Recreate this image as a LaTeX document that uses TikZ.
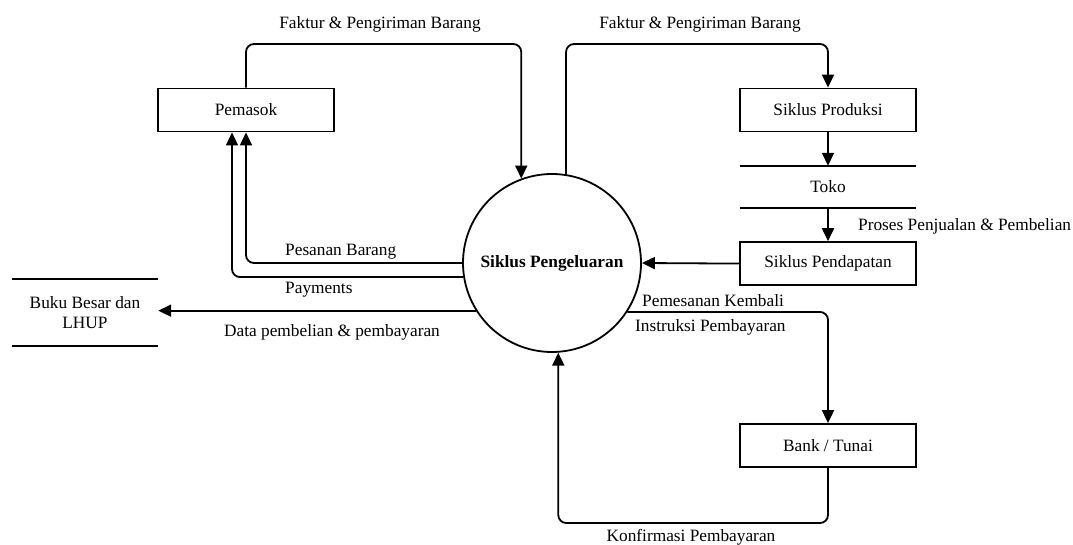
\documentclass[tikz,border=0pt]{standalone}
\usepackage{fontspec}
\setmainfont{Liberation Serif}
\usetikzlibrary{positioning}
\usetikzlibrary{shapes.geometric, arrows.meta}
\tikzstyle{arrow} = [line width=1.8pt,-{Triangle[width=12pt,length=13pt]},rounded corners=8pt]
\tikzstyle{line} = [line width=1.8pt]
\tikzstyle{box} = [draw,line width=1.8pt,minimum width=176pt,minimum height=43pt,inner sep=0pt]
\tikzstyle{store} = [minimum width=176pt,minimum height=42pt,inner sep=0pt,align=center]
\tikzstyle{lbl} = [inner sep=0pt]

\begin{document}
\begin{tikzpicture}[x=1pt,y=-1pt,font=\fontsize{17.3}{20}\selectfont]
	\useasboundingbox (0,0) rectangle (1073,545);
	%Nodes
	\node [circle,draw,line width=1.8pt,minimum size=178pt,inner sep=0pt,font=\fontsize{17.3}{20}\selectfont\bfseries] (siklus) at (552,263) {Siklus Pengeluaran};
	\node [box] (pemasok) at (246,110) {Pemasok};
	\node [box] (produksi) at (828,110) {Siklus Produksi};
	\node [store] (toko) at (828,187) {Toko};
	\node [box, below=33pt of toko] (pendapatan) {Siklus Pendapatan};
	\node [box] (bank) at (828,445.5) {Bank / Tunai};
	\node [store, minimum width=146pt, minimum height=67pt] (buku) at (85,312.5) {Buku Besar dan\\LHUP};
	
	\coordinate (top) at (0,44);
	\coordinate (bottom) at (0,523);
	
	%Stores
	\draw[line] (toko.north west) -- (toko.north east);
	\draw[line] (toko.south west) -- (toko.south east);
	\draw[line] (buku.north west) -- (buku.north east);
	\draw[line] (buku.south west) -- (buku.south east);
	
	%Lines
	\draw[arrow] (pemasok.north) |- (siklus.110 |- top) -- (siklus.110);
	\draw[arrow] (siklus.81) |- (produksi.north |- top) -- (produksi.north);
	\draw[arrow] (siklus.west) -| (pemasok.south);
	\draw[arrow] (siklus.189) -| ([xshift=-14pt]pemasok.south);
	\draw[arrow] (siklus.212.6) -- (siklus.212.6 -| buku.east);
	\draw[arrow] (produksi.south) -- (toko.north);
	\draw[arrow] (toko.south) -- (pendapatan.north);
	\draw[arrow] (pendapatan.west) -- (siklus.east);
	\draw[arrow] (siklus.-33.4) -| (bank.north);
	\draw[arrow] (bank.south) |- (siklus.-86.8 |- bottom) -- (siklus.-86.8);
	
	%Labels
	\node [lbl] (faktur1) at (380,24) {Faktur \& Pengiriman Barang};
	\node [lbl] (faktur2) at (700,24) {Faktur \& Pengiriman Barang};
	\node [lbl, anchor=west] (pesanan) at (285,252) {Pesanan Barang};
	\node [lbl, anchor=west] (payments) at (285,290) {Payments};
	\node [lbl] (data) at (332,332) {Data pembelian \& pembayaran};
	\node [lbl, anchor=west] (proses) at (858,226.5) {Proses Penjualan \& Pembelian};
	\node [lbl, anchor=west] (pemesanan) at (642,301) {Pemesanan Kembali};
	\node [lbl, anchor=west] (instruksi) at (635,327.5) {Instruksi Pembayaran};
	\node [lbl] (konfirmasi) at (691,537) {Konfirmasi Pembayaran};
\end{tikzpicture}
\end{document}
